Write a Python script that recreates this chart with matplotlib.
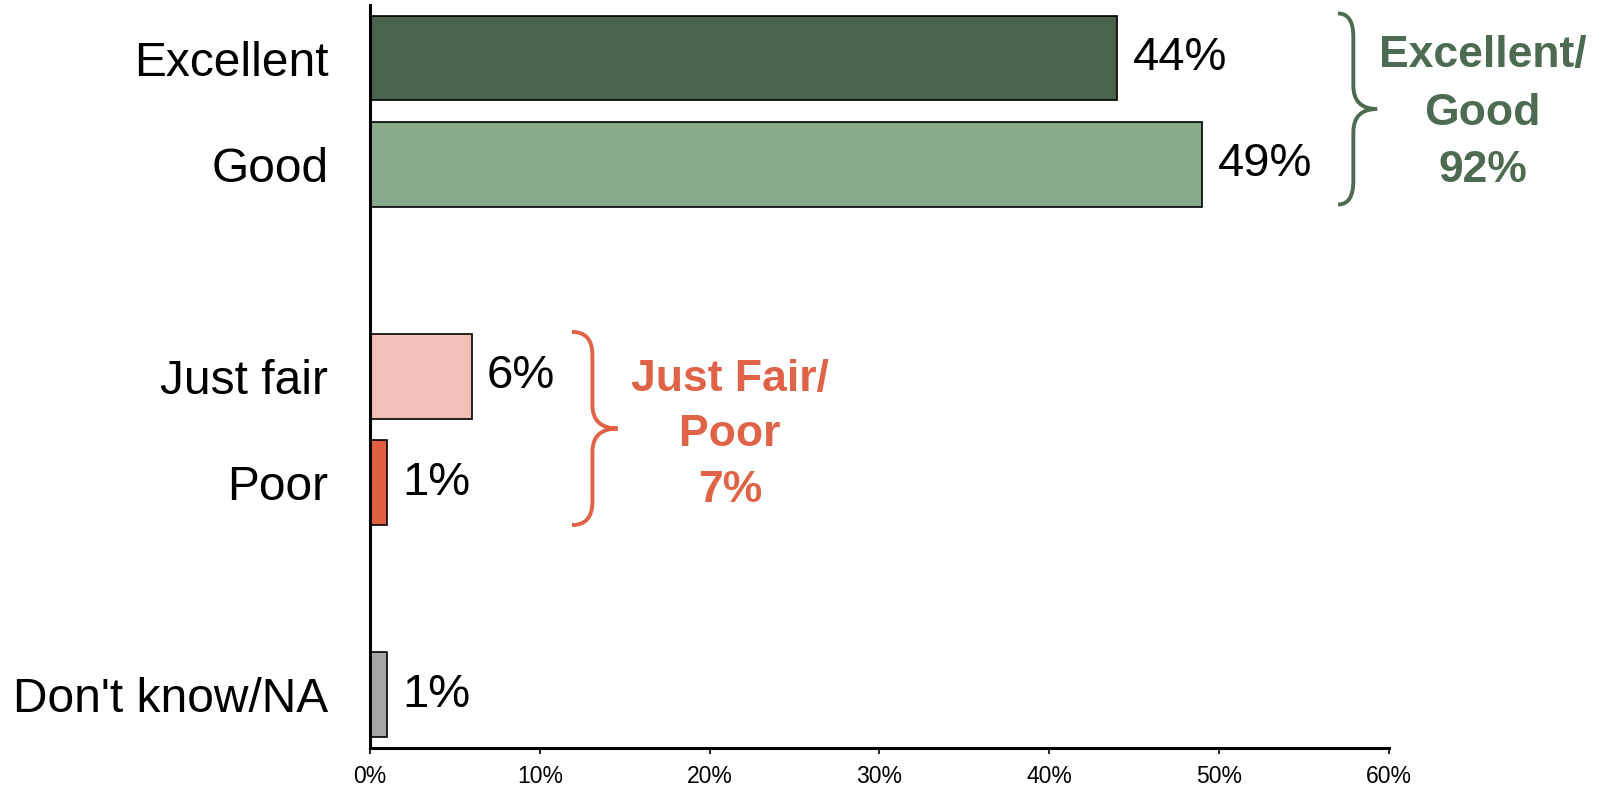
import matplotlib
matplotlib.use("Agg")
import matplotlib.pyplot as plt
from matplotlib.path import Path
from matplotlib.patches import PathPatch
from matplotlib.ticker import PercentFormatter

plt.rcParams["font.family"] = ["Liberation Sans", "DejaVu Sans"]

# --- data ---
categories = ["Excellent", "Good", "Just fair", "Poor", "Don't know/NA"]
values     = [44, 49, 6, 1, 1]
colors     = ["#4a634c", "#8aaa8c", "#f2c0b6", "#e06040", "#a6a6a6"]
group_text  = ["Excellent/\nGood\n92%", "Just Fair/\nPoor\n7%"]
group_color = ["#4d6b50", "#e06347"]
xticks = [0, 10, 20, 30, 40, 50, 60]

# layout: blank rows between the groups
ypos = [0, 1, 3, 4, 6]

fig = plt.figure(figsize=(16.14, 7.88), dpi=100)
ax = fig.add_axes([0.2292, 0.0508, 0.6314, 0.9429])

ax.barh(ypos, values, height=0.8, color=colors, edgecolor="black", linewidth=1.2)
for y, v in zip(ypos, values):
    ax.annotate(f"{v}%", (v, y), xytext=(11, 0), textcoords="offset points",
                ha="left", va="center", fontsize=34)

ax.set_yticks(ypos)
ax.set_yticklabels(categories, fontsize=34.5)
ax.set_ylim(6.5, -0.5)
ax.set_xlim(0, 60)
ax.set_xticks(xticks)
ax.xaxis.set_major_formatter(PercentFormatter(decimals=0))
ax.tick_params(axis="y", length=0, pad=30)
ax.tick_params(axis="x", length=4, width=1.2, pad=8, labelsize=16.5)
for s in ["top", "right"]:
    ax.spines[s].set_visible(False)
ax.spines["left"].set_linewidth(2.2)
ax.spines["bottom"].set_linewidth(2.2)


def brace(ax, x0, xm, x1, y0, y1, r, color):
    ymid = (y0 + y1) / 2
    verts = [(x0, y0), (xm, y0), (xm, y0 + r),
             (xm, ymid - r),
             (xm, ymid), (x1, ymid),
             (xm, ymid), (xm, ymid + r),
             (xm, y1 - r),
             (xm, y1), (x0, y1)]
    codes = [Path.MOVETO, Path.CURVE3, Path.CURVE3,
             Path.LINETO,
             Path.CURVE3, Path.CURVE3,
             Path.CURVE3, Path.CURVE3,
             Path.LINETO,
             Path.CURVE3, Path.CURVE3]
    ax.add_patch(PathPatch(Path(verts, codes), fill=False, edgecolor=color,
                           linewidth=2.8, clip_on=False))


brace(ax, 57.0, 57.9, 59.3, -0.42, 1.38, 0.22, group_color[0])
brace(ax, 11.9, 13.1, 14.6, 2.58, 4.4, 0.22, group_color[1])

ax.text(65.5, 0.52, group_text[0], ha="center", va="center", fontsize=32,
        fontweight="bold", color=group_color[0], linespacing=1.52, clip_on=False)
ax.text(21.2, 3.55, group_text[1], ha="center", va="center", fontsize=32,
        fontweight="bold", color=group_color[1], linespacing=1.46)

fig.savefig("out.png", dpi=100)
